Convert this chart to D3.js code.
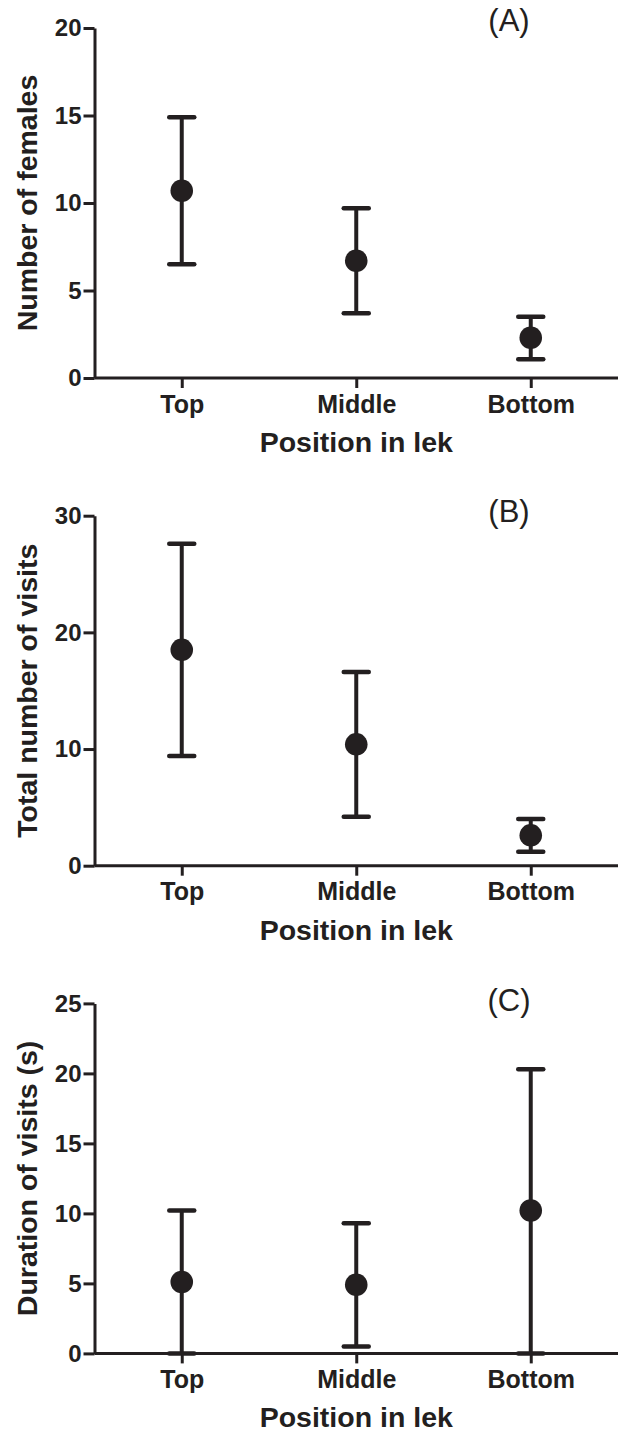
<!DOCTYPE html>
<html>
<head>
<meta charset="utf-8">
<script src="https://cdn.jsdelivr.net/npm/d3@7"></script>
<style>
  body { margin: 0; background: #fff; }
  text { font-family: "Liberation Sans", Arial, sans-serif; fill: #231f20; }
</style>
</head>
<body>
<div id="chart"></div>
<script>
// data
const categories = ['Top', 'Middle', 'Bottom'];

const femalesMean = [10.7, 6.7, 2.3];
const femalesLow = [6.5, 3.7, 1.07];
const femalesHigh = [14.9, 9.7, 3.5];

const visitsMean = [18.5, 10.4, 2.6];
const visitsLow = [9.4, 4.2, 1.2];
const visitsHigh = [27.6, 16.6, 4.0];

const durationMean = [5.1, 4.9, 10.2];
const durationLow = [0, 0.5, 0];
const durationHigh = [10.2, 9.3, 20.3];

const panelLabels = ['(A)', '(B)', '(C)'];
const yTitles = ['Number of females', 'Total number of visits', 'Duration of visits (s)'];
const yMax = [20, 30, 25];
const yTicks = [[0, 5, 10, 15, 20], [0, 10, 20, 30], [0, 5, 10, 15, 20, 25]];
const xTitle = 'Position in lek';

const panels = [
    { mean: femalesMean, low: femalesLow, high: femalesHigh },
    { mean: visitsMean, low: visitsLow, high: visitsHigh },
    { mean: durationMean, low: durationLow, high: durationHigh }
];

const width = 620;
const height = 1432;
const INK = '#231f20';
const LEFT = 94.5;
const RIGHT = 618;
const TOP0 = 28;
const PANEL_STEP = 487.7;
const PANEL_H = 350;
const CAP_HALF = 12.5;
const DOT_R = 11.3;
const labelDy = [3, 6, 8];

const svg = d3.select('#chart')
    .append('svg')
    .attr('width', width)
    .attr('height', height);

const x = d3.scalePoint()
    .domain(categories)
    .range([LEFT, RIGHT])
    .padding(0.5);

panels.forEach((p, i) => {
    const top = TOP0 + i * PANEL_STEP;
    const bottom = top + PANEL_H;

    const y = d3.scaleLinear()
        .domain([0, yMax[i]])
        .range([bottom, top]);

    const g = svg.append('g');

    // y axis
    const yAxis = g.append('g')
        .attr('transform', `translate(${LEFT},0)`)
        .call(d3.axisLeft(y).tickValues(yTicks[i]).tickSize(11).tickSizeOuter(0).tickPadding(2));
    yAxis.selectAll('text')
        .style('font-size', '24px')
        .style('font-weight', 'bold')
        .attr('fill', INK);

    // x axis
    const xAxis = g.append('g')
        .attr('transform', `translate(0,${bottom})`)
        .call(d3.axisBottom(x).tickSize(10).tickSizeOuter(0).tickPadding(7));
    xAxis.select('.domain').attr('d', `M${LEFT},0H${RIGHT}`);
    xAxis.selectAll('text')
        .style('font-size', '25px')
        .style('font-weight', 'bold')
        .attr('fill', INK);

    g.selectAll('.domain, .tick line')
        .attr('stroke', INK)
        .attr('stroke-width', 3);

    // error bars
    const bars = g.selectAll('.bar')
        .data(categories)
        .enter()
        .append('g')
        .attr('class', 'bar');

    bars.append('line')
        .attr('x1', d => x(d))
        .attr('x2', d => x(d))
        .attr('y1', (d, j) => y(p.low[j]))
        .attr('y2', (d, j) => y(p.high[j]))
        .attr('stroke', INK)
        .attr('stroke-width', 4);

    ['low', 'high'].forEach(k => {
        bars.append('line')
            .attr('x1', d => x(d) - CAP_HALF)
            .attr('x2', d => x(d) + CAP_HALF)
            .attr('y1', (d, j) => y(p[k][j]))
            .attr('y2', (d, j) => y(p[k][j]))
            .attr('stroke', INK)
            .attr('stroke-width', 4.5)
            .attr('stroke-linecap', 'round');
    });

    bars.append('circle')
        .attr('cx', d => x(d))
        .attr('cy', (d, j) => y(p.mean[j]))
        .attr('r', DOT_R)
        .attr('fill', INK);

    // titles
    g.append('text')
        .attr('transform', `translate(37,${(top + bottom) / 2}) rotate(-90)`)
        .attr('text-anchor', 'middle')
        .style('font-size', '28.5px')
        .style('font-weight', 'bold')
        .text(yTitles[i]);

    g.append('text')
        .attr('x', (LEFT + RIGHT) / 2)
        .attr('y', bottom + 74)
        .attr('text-anchor', 'middle')
        .style('font-size', '28.5px')
        .style('font-weight', 'bold')
        .text(xTitle);

    g.append('text')
        .attr('x', 509)
        .attr('y', top + labelDy[i])
        .attr('text-anchor', 'middle')
        .style('font-size', '31px')
        .text(panelLabels[i]);
});
</script>
</body>
</html>
